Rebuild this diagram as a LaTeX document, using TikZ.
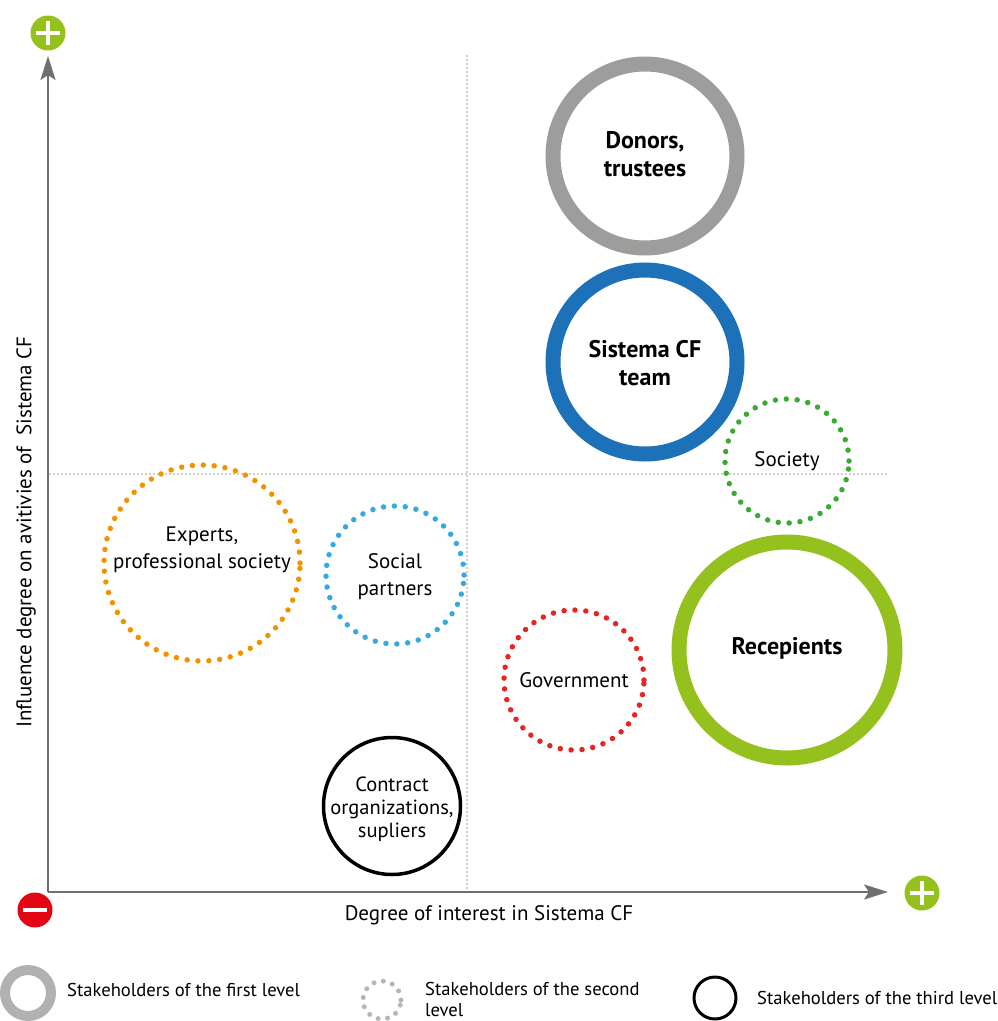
\documentclass[tikz,border=0pt]{standalone}
\usepackage{fontspec}
\setmainfont{PT Sans}
\usetikzlibrary{arrows.meta}

\definecolor{axisgray}{HTML}{6F6F6E}
\definecolor{ringgray}{HTML}{9D9D9C}
\definecolor{teamblue}{HTML}{1D71B8}
\definecolor{recgreen}{HTML}{95C11F}
\definecolor{socgreen}{HTML}{3AAA35}
\definecolor{exporange}{HTML}{F39200}
\definecolor{partblue}{HTML}{36A9E1}
\definecolor{govred}{HTML}{E52521}
\definecolor{minusred}{HTML}{E30613}

\tikzset{
  ring/.style={circle,draw=#1,line width=15pt,inner sep=0pt},
  dotring/.style={circle,draw=#1,line width=5.5pt,line cap=round,dash pattern=on 0pt off 10.9pt,inner sep=0pt},
  thinring/.style={circle,draw=black,line width=3.5pt,inner sep=0pt},
  lbl/.style={align=center,inner sep=0pt,font=\fontsize{21}{27}\selectfont},
  boldlbl/.style={lbl,font=\fontsize{24}{27.5}\selectfont\bfseries},
  guide/.style={ringgray,line width=1.8pt,line cap=round,dash pattern=on 0pt off 4pt},
  axis/.style={axisgray,line width=2pt,-{Stealth[length=24pt,width=15pt,inset=5pt]}},
  icon/.style={circle,fill=#1,minimum size=35pt,inner sep=0pt},
  bar/.style={white,line width=4.5pt},
  legtext/.style={anchor=west,align=left,inner sep=0pt,font=\fontsize{18.6}{21}\selectfont}
}

\begin{document}
\begin{tikzpicture}[line join=round,x=1pt,y=-1pt]
\useasboundingbox (0,0) rectangle (998,1021);
% axes and guides
\coordinate (origin) at (48,892);
\coordinate (ytip) at (48,56);
\coordinate (xtip) at (888,892);
\coordinate (vtop) at (467,56);
\coordinate (vbot) at (467,890);
\coordinate (hleft) at (50,474);
\coordinate (hright) at (888,474);
\draw [guide] (vtop)-- (vbot);
\draw [guide] (hleft)-- (hright);
\draw [axis] (origin)-- (ytip);
\draw [axis] (origin)-- (xtip);
% plus / minus signs
\node[icon=recgreen] (yplus) at (48,33) {};
\draw [bar] ([xshift=-12pt]yplus.center)-- ([xshift=12pt]yplus.center);
\draw [bar] ([yshift=-12pt]yplus.center)-- ([yshift=12pt]yplus.center);
\node[icon=recgreen] (xplus) at (922,893) {};
\draw [bar] ([xshift=-12pt]xplus.center)-- ([xshift=12pt]xplus.center);
\draw [bar] ([yshift=-12pt]xplus.center)-- ([yshift=12pt]xplus.center);
\node[icon=minusred] (minus) at (35,910) {};
\draw [bar] ([xshift=-12pt]minus.center)-- ([xshift=12pt]minus.center);
% axis titles
\node[lbl] (xtitle) at (489,915) {Degree of interest in Sistema CF};
\node[lbl,rotate=90] (ytitle) at (26,532) {Influence degree on avitivies of\ \ Sistema CF};
% first level
\node[ring=ringgray,minimum size=184pt] (donors) at (645,156) {};
\node[boldlbl] (donorstext) at ([yshift=2pt]donors.center) {Donors,\\trustees};
\node[ring=teamblue,minimum size=184pt] (team) at (645,362) {};
\node[boldlbl] (teamtext) at ([yshift=-1pt]team.center) {Sistema CF\\team};
\node[ring=recgreen,minimum size=216pt] (recep) at (787,650) {};
\node[boldlbl] (receptext) at ([yshift=2pt]recep.center) {Recepients};
% second level
\node[dotring=socgreen,minimum size=124pt] (society) at (787,461) {};
\node[lbl] (societytext) at (society.center) {Society};
\node[dotring=exporange,minimum size=196pt] (experts) at (202,563) {};
\node[lbl] (expertstext) at ([yshift=13pt]experts.center) {Experts,\\professional society};
\node[dotring=partblue,minimum size=138pt] (partners) at (395,575) {};
\node[lbl] (partnerstext) at ([yshift=-2pt]partners.center) {Social\\partners};
\node[dotring=govred,minimum size=140pt] (govt) at (574,680) {};
\node[lbl] (govttext) at (govt.center) {Government};
% third level
\node[thinring,minimum size=137pt] (contract) at (392,806) {};
\node[lbl,font=\fontsize{20.5}{23}\selectfont] (contracttext) at ([yshift=-3pt]contract.center) {Contract\\organizations,\\supliers};
% legend
\node[circle,draw=ringgray!80,line width=10pt,minimum size=46pt,inner sep=0pt] (leg1) at (28,993) {};
\node[legtext] (leg1text) at (67,990) {Stakeholders of the first level};
\node[circle,draw=ringgray!75,line width=5pt,line cap=round,dash pattern=on 0pt off 9.5pt,minimum size=38pt,inner sep=0pt] (leg2) at (382,1000) {};
\node[legtext] (leg2text) at (425,999) {Stakeholders of the second\\level};
\node[thinring,line width=3pt,minimum size=42pt] (leg3) at (715,998) {};
\node[legtext] (leg3text) at (757,998) {Stakeholders of the third level};
\end{tikzpicture}
\end{document}
